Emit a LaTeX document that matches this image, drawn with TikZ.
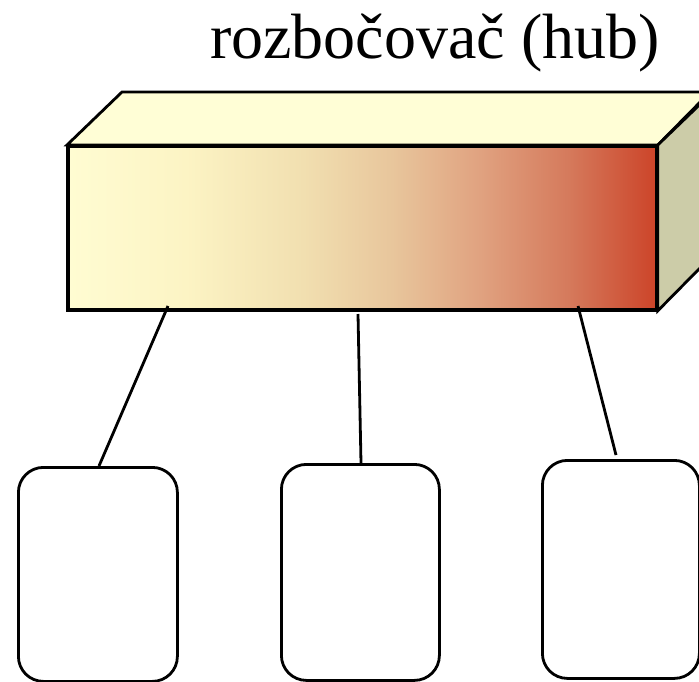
\documentclass[tikz,border=0pt]{standalone}
\usepackage{fontspec}
\setmainfont{Liberation Serif}
\usetikzlibrary{shadings}
\definecolor{topc}{RGB}{255,254,214}
\definecolor{sidec}{RGB}{204,204,168}
\definecolor{hA}{RGB}{255,252,210}
\definecolor{hB}{RGB}{252,244,196}
\definecolor{hC}{RGB}{241,223,176}
\definecolor{hD}{RGB}{232,198,156}
\definecolor{hE}{RGB}{224,162,128}
\definecolor{hF}{RGB}{213,122,92}
\definecolor{hG}{RGB}{204,68,41}
\pgfdeclarehorizontalshading{hubshade}{100bp}{
  color(0bp)=(hA);
  color(25bp)=(hA);
  color(35bp)=(hB);
  color(45bp)=(hC);
  color(52.5bp)=(hD);
  color(60bp)=(hE);
  color(67.5bp)=(hF);
  color(75bp)=(hG);
  color(100bp)=(hG)}
\tikzset{
  edge/.style={line width=2.8pt, line join=miter},
  pc/.style={draw, line width=2.8pt, rounded corners=25pt, fill=white, inner sep=0pt},
  link/.style={line width=2.8pt}
}
\begin{document}
\begin{tikzpicture}[x=1pt,y=-1pt]
\useasboundingbox (0,0) rectangle (699,681);
\clip (0,0) rectangle (699,681);
\fill[white] (0,0) rectangle (699,681);
% title
\node[anchor=base, font=\fontsize{64}{70}\selectfont, inner sep=0pt] (title) at (435,58) {rozbočovač (hub)};
% hub box
\node[draw, edge, shading=hubshade, minimum width=588pt, minimum height=163pt, inner sep=0pt, anchor=north west] (hub) at (67,145) {};
\filldraw[edge, fill=topc] (hub.north west) -- ++(55,-53) -- ++(588,0) -- (hub.north east) -- cycle;
\filldraw[edge, fill=sidec] (hub.north east) -- ++(55,-53) -- ++(0,163) -- (hub.south east) -- cycle;
\draw[edge] (hub.north west) rectangle (hub.south east);
% pcs
\node[pc, minimum width=159pt, minimum height=214pt, anchor=north west] (pc1) at (17,466) {};
\node[pc, minimum width=158pt, minimum height=216pt, anchor=north west] (pc2) at (280,463) {};
\node[pc, minimum width=157pt, minimum height=218pt, anchor=north west] (pc3) at (541,459) {};
% links
\coordinate (h1) at (168,306);
\coordinate (h2) at (358,314);
\coordinate (h3) at (578,306);
\coordinate (p3) at (616,455);
\draw[link] (h1) -- (pc1.north -| 99,0);
\draw[link] (h2) -- (pc2.north -| 361,0);
\draw[link] (h3) -- (p3);
\end{tikzpicture}
\end{document}
